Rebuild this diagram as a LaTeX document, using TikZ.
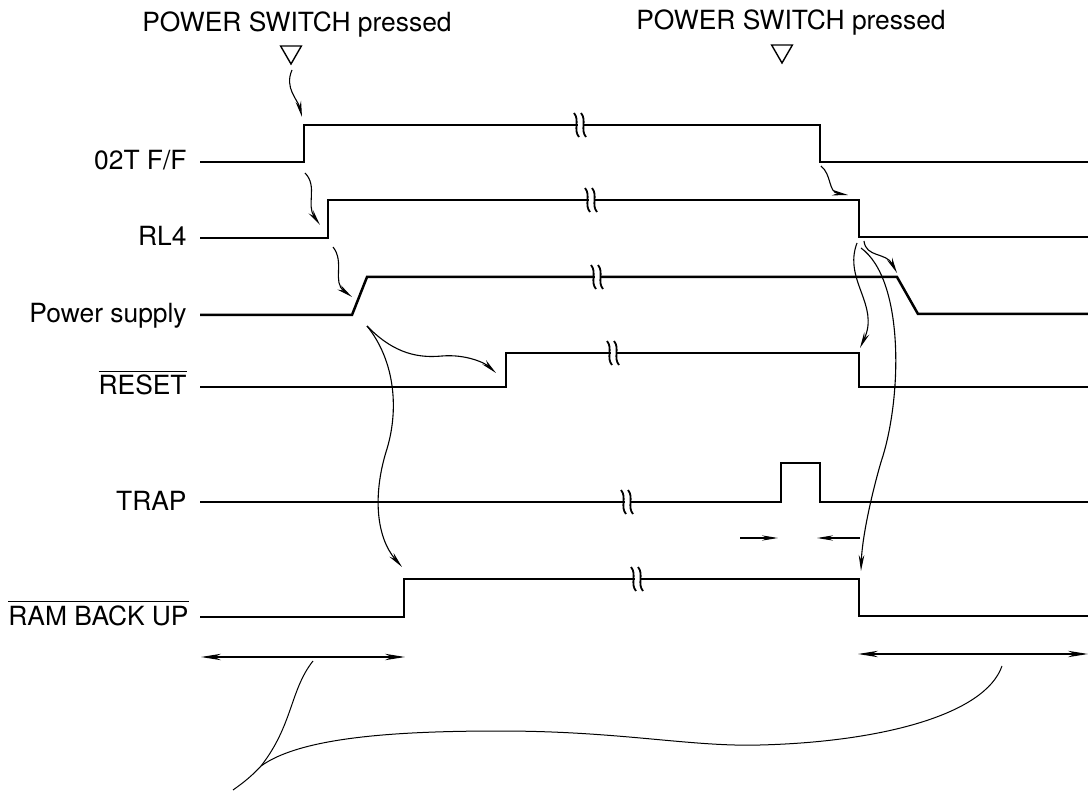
\documentclass[tikz,border=0pt]{standalone}
\usepackage{fontspec}
\setmainfont{TeX Gyre Heros}
\usepackage{amsmath}
\usetikzlibrary{arrows.meta,shapes.geometric}

\tikzset{
  sig/.style={line width=1.25pt, line join=miter},
  wav/.style={line width=0.55pt, -{Stealth[length=8pt,width=2.8pt]}},
  trapspan/.style={line width=0.55pt, -{Stealth[length=8pt,width=2.6pt]}},
  span/.style={line width=0.6pt, {Stealth[length=10pt,width=3.2pt]}-{Stealth[length=10pt,width=3.2pt]}},
  lbl/.style={anchor=base east, inner sep=0pt, font=\fontsize{13.2}{15}\selectfont},
  swlbl/.style={anchor=base, inner sep=0pt, font=\fontsize{13.2}{15}\selectfont},
  tri/.style={draw, line width=0.7pt, regular polygon, regular polygon sides=3,
    shape border rotate=180, minimum size=12pt, inner sep=0pt},
  brk/.pic={
    \fill[white] (-2.5,-3) rectangle (2.5,3);
    \draw[line width=0.9pt] (-6,-12) .. controls (0,-5) and (-7,5) .. (-1,12);
    \draw[line width=0.9pt] (1,-12) .. controls (7,-5) and (0,5) .. (6,12);
  }
}

\begin{document}
\begin{tikzpicture}[x=0.5pt,y=-0.5pt]
\useasboundingbox (0,0) rectangle (1088,791);

\node[swlbl] (swa) at (297,32) {POWER SWITCH pressed};
\node[swlbl] (swb) at (791,30) {POWER SWITCH pressed};
\node[tri] (tria) at (291,52) {};
\node[tri] (trib) at (782,51) {};

\node[lbl] (l02t) at (187,170) {02T F/F};
\node[lbl] (lrl4) at (187,246) {RL4};
\node[lbl] (lpow) at (187,323) {Power supply};
\node[lbl] (lrst) at (187,395) {$\overline{\text{RESET}}$};
\node[lbl] (ltrap) at (187,510) {TRAP};
\node[lbl] (lram) at (189,625) {$\overline{\text{RAM BACK UP}}$};

\draw[sig] (200,162) -- (304,162) -- (304,125) -- (820,125) -- (820,162) -- (1088,162);
\draw[sig] (200,238) -- (328,238) -- (328,200) -- (859,200) -- (859,237) -- (1088,237);
\draw[sig] (200,315) -- (352,315) -- (367,277) -- (897,277) -- (918,314) -- (1088,314);
\draw[sig] (200,387) -- (506,387) -- (506,353) -- (859,353) -- (859,387) -- (1088,387);
\draw[sig] (200,502) -- (781,502) -- (781,463) -- (820,463) -- (820,502) -- (1088,502);
\draw[sig] (200,617) -- (404,617) -- (404,579) -- (859,579) -- (859,616) -- (1088,616);

\foreach \bx/\by in {580/125, 591/200, 597/277, 613/353, 627/502, 637/579}
  \pic at (\bx,\by) {brk};

\coordinate (a1s) at (292,70);  \coordinate (a1e) at (302,117);
\coordinate (a2s) at (305,173); \coordinate (a2e) at (320,225);
\coordinate (a3s) at (333,247); \coordinate (a3e) at (352,297);
\coordinate (a4s) at (821,166); \coordinate (a4e) at (848,195);
\coordinate (a5s) at (864,241); \coordinate (a5e) at (897,273);
\coordinate (a6s) at (857,243); \coordinate (a6e) at (860,348);
\coordinate (a7s) at (861,248); \coordinate (a7e) at (861,571);
\coordinate (a8s) at (367,326); \coordinate (a8e) at (496,373);
\coordinate (a9e) at (402,567);

\draw[wav] (a1s) .. controls (284,88) and (298,100) .. (a1e);
\draw[wav] (a2s) .. controls (318,186) and (306,205) .. (a2e);
\draw[wav] (a3s) .. controls (345,262) and (332,282) .. (a3e);
\draw[wav] (a4s) .. controls (832,175) and (828,192) .. (a4e);
\draw[wav] (a5s) .. controls (866,258) and (886,252) .. (a5e);
\draw[wav] (a6s) .. controls (843,280) and (880,305) .. (a6e);
\draw[wav] (a7s) .. controls (905,280) and (902,400) .. (881,462) .. controls (870,500) and (862,540) .. (a7e);
\draw[wav] (a8s) .. controls (395,355) and (420,358) .. (442,356) .. controls (466,354) and (485,363) .. (a8e);
\draw[wav] (a8s) .. controls (396,362) and (399,412) .. (386,452) .. controls (373,495) and (376,537) .. (a9e);

\coordinate (t1s) at (740,538); \coordinate (t1e) at (778,538);
\coordinate (t2s) at (860,538); \coordinate (t2e) at (817,538);
\draw[trapspan] (t1s) -- (t1e);
\draw[trapspan] (t2s) -- (t2e);

\coordinate (b1l) at (201,657); \coordinate (b1r) at (405,657);
\coordinate (b2l) at (858,654); \coordinate (b2r) at (1088,654);
\draw[span] (b1l) -- (b1r);
\draw[span] (b2l) -- (b2r);

\coordinate (c1s) at (313,661); \coordinate (c1j) at (261,766); \coordinate (c1e) at (233,790);
\coordinate (c2s) at (1002,666);
\draw[line width=0.5pt] (c1s) .. controls (290,690) and (293,725) .. (c1j) .. controls (250,778) and (240,785) .. (c1e);
\draw[line width=0.5pt] (c2s) .. controls (985,715) and (880,742) .. (760,745)
  .. controls (690,747) and (620,731) .. (500,731) .. controls (390,731) and (300,738) .. (c1j);
\end{tikzpicture}
\end{document}
